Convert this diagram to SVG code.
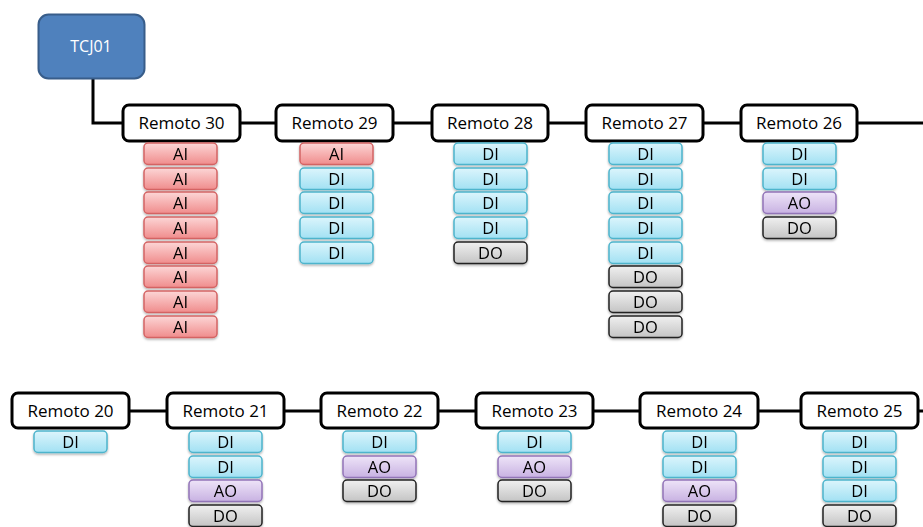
<svg xmlns="http://www.w3.org/2000/svg" width="923" height="527" viewBox="0 0 923 527">
<defs>
<linearGradient id="gAI" x1="0" y1="0" x2="0" y2="1"><stop offset="0" stop-color="#fcd6d6"/><stop offset="1" stop-color="#f08c8c"/></linearGradient>
<linearGradient id="gDI" x1="0" y1="0" x2="0" y2="1"><stop offset="0" stop-color="#dcf5fc"/><stop offset="1" stop-color="#a2e1f3"/></linearGradient>
<linearGradient id="gAO" x1="0" y1="0" x2="0" y2="1"><stop offset="0" stop-color="#eee4f8"/><stop offset="1" stop-color="#c8b2e2"/></linearGradient>
<linearGradient id="gDO" x1="0" y1="0" x2="0" y2="1"><stop offset="0" stop-color="#f0f0f0"/><stop offset="1" stop-color="#c4c4c4"/></linearGradient>
<filter id="sh" x="-10%" y="-20%" width="120%" height="160%"><feDropShadow dx="0" dy="1.5" stdDeviation="1.2" flood-color="#000" flood-opacity="0.3"/></filter>
</defs>
<style>
.rem rect{fill:#fff;stroke:#000;stroke-width:3}
.rem text{font-family:"Open Sans","Liberation Sans",sans-serif;font-size:17px;fill:#000;text-anchor:middle}
.it{filter:url(#sh)}
.it rect{stroke-width:1.5}
.it text{font-family:"Open Sans","Liberation Sans",sans-serif;font-size:16.5px;fill:#000;text-anchor:middle}
.AI{fill:url(#gAI);stroke:#d46464}
.DI{fill:url(#gDI);stroke:#4db4cc}
.AO{fill:url(#gAO);stroke:#9274b8}
.DO{fill:url(#gDO);stroke:#222}
.conn path{fill:none;stroke:#000;stroke-width:3}
</style>
<g class="conn">
<path d="M93 79 V123 H123"/>
<path d="M240 123 H276"/>
<path d="M393 123 H432"/>
<path d="M548 123 H586"/>
<path d="M703 123 H741"/>
<path d="M857 123 H923"/>
<path d="M129 411 H167"/>
<path d="M284 411 H321"/>
<path d="M438 411 H476"/>
<path d="M593 411 H640"/>
<path d="M758 411 H801"/>
<path d="M918 411 H923"/>
</g>
<g id="TCJ01">
<rect x="38.5" y="14.5" width="106" height="64" rx="10" fill="#4f81bd" stroke="#385d8a" stroke-width="2"/>
<text x="91" y="52" font-family="'Open Sans','Liberation Sans',sans-serif" font-size="16" fill="#fff" text-anchor="middle">TCJ01</text>
</g>
<g id="R30">
<g class="rem"><rect x="123" y="105" width="117" height="36" rx="6"/><text x="181.5" y="129">Remoto 30</text></g>
<g class="it"><rect class="AI" x="144" y="143" width="73" height="21.5" rx="4"/><text x="180.5" y="159.5">AI</text></g>
<g class="it"><rect class="AI" x="144" y="168" width="73" height="21.5" rx="4"/><text x="180.5" y="184.5">AI</text></g>
<g class="it"><rect class="AI" x="144" y="192" width="73" height="21.5" rx="4"/><text x="180.5" y="208.5">AI</text></g>
<g class="it"><rect class="AI" x="144" y="217" width="73" height="21.5" rx="4"/><text x="180.5" y="233.5">AI</text></g>
<g class="it"><rect class="AI" x="144" y="242" width="73" height="21.5" rx="4"/><text x="180.5" y="258.5">AI</text></g>
<g class="it"><rect class="AI" x="144" y="266" width="73" height="21.5" rx="4"/><text x="180.5" y="282.5">AI</text></g>
<g class="it"><rect class="AI" x="144" y="291" width="73" height="21.5" rx="4"/><text x="180.5" y="307.5">AI</text></g>
<g class="it"><rect class="AI" x="144" y="316" width="73" height="21.5" rx="4"/><text x="180.5" y="332.5">AI</text></g>
</g>
<g id="R29">
<g class="rem"><rect x="276" y="105" width="117" height="36" rx="6"/><text x="334.5" y="129">Remoto 29</text></g>
<g class="it"><rect class="AI" x="300" y="143" width="73" height="21.5" rx="4"/><text x="336.5" y="159.5">AI</text></g>
<g class="it"><rect class="DI" x="300" y="168" width="73" height="21.5" rx="4"/><text x="336.5" y="184.5">DI</text></g>
<g class="it"><rect class="DI" x="300" y="192" width="73" height="21.5" rx="4"/><text x="336.5" y="208.5">DI</text></g>
<g class="it"><rect class="DI" x="300" y="217" width="73" height="21.5" rx="4"/><text x="336.5" y="233.5">DI</text></g>
<g class="it"><rect class="DI" x="300" y="242" width="73" height="21.5" rx="4"/><text x="336.5" y="258.5">DI</text></g>
</g>
<g id="R28">
<g class="rem"><rect x="432" y="105" width="116" height="36" rx="6"/><text x="490" y="129">Remoto 28</text></g>
<g class="it"><rect class="DI" x="454" y="143" width="73" height="21.5" rx="4"/><text x="490.5" y="159.5">DI</text></g>
<g class="it"><rect class="DI" x="454" y="168" width="73" height="21.5" rx="4"/><text x="490.5" y="184.5">DI</text></g>
<g class="it"><rect class="DI" x="454" y="192" width="73" height="21.5" rx="4"/><text x="490.5" y="208.5">DI</text></g>
<g class="it"><rect class="DI" x="454" y="217" width="73" height="21.5" rx="4"/><text x="490.5" y="233.5">DI</text></g>
<g class="it"><rect class="DO" x="454" y="242" width="73" height="21.5" rx="4"/><text x="490.5" y="258.5">DO</text></g>
</g>
<g id="R27">
<g class="rem"><rect x="586" y="105" width="117" height="36" rx="6"/><text x="644.5" y="129">Remoto 27</text></g>
<g class="it"><rect class="DI" x="609" y="143" width="73" height="21.5" rx="4"/><text x="645.5" y="159.5">DI</text></g>
<g class="it"><rect class="DI" x="609" y="168" width="73" height="21.5" rx="4"/><text x="645.5" y="184.5">DI</text></g>
<g class="it"><rect class="DI" x="609" y="192" width="73" height="21.5" rx="4"/><text x="645.5" y="208.5">DI</text></g>
<g class="it"><rect class="DI" x="609" y="217" width="73" height="21.5" rx="4"/><text x="645.5" y="233.5">DI</text></g>
<g class="it"><rect class="DI" x="609" y="242" width="73" height="21.5" rx="4"/><text x="645.5" y="258.5">DI</text></g>
<g class="it"><rect class="DO" x="609" y="266" width="73" height="21.5" rx="4"/><text x="645.5" y="282.5">DO</text></g>
<g class="it"><rect class="DO" x="609" y="291" width="73" height="21.5" rx="4"/><text x="645.5" y="307.5">DO</text></g>
<g class="it"><rect class="DO" x="609" y="316" width="73" height="21.5" rx="4"/><text x="645.5" y="332.5">DO</text></g>
</g>
<g id="R26">
<g class="rem"><rect x="741" y="105" width="116" height="36" rx="6"/><text x="799" y="129">Remoto 26</text></g>
<g class="it"><rect class="DI" x="763" y="143" width="73" height="21.5" rx="4"/><text x="799.5" y="159.5">DI</text></g>
<g class="it"><rect class="DI" x="763" y="168" width="73" height="21.5" rx="4"/><text x="799.5" y="184.5">DI</text></g>
<g class="it"><rect class="AO" x="763" y="192" width="73" height="21.5" rx="4"/><text x="799.5" y="208.5">AO</text></g>
<g class="it"><rect class="DO" x="763" y="217" width="73" height="21.5" rx="4"/><text x="799.5" y="233.5">DO</text></g>
</g>
<g id="R20">
<g class="rem"><rect x="12" y="393" width="117" height="35" rx="6"/><text x="70.5" y="417">Remoto 20</text></g>
<g class="it"><rect class="DI" x="34" y="431" width="73" height="21.5" rx="4"/><text x="70.5" y="447.5">DI</text></g>
</g>
<g id="R21">
<g class="rem"><rect x="167" y="393" width="117" height="35" rx="6"/><text x="225.5" y="417">Remoto 21</text></g>
<g class="it"><rect class="DI" x="189" y="431" width="73" height="21.5" rx="4"/><text x="225.5" y="447.5">DI</text></g>
<g class="it"><rect class="DI" x="189" y="456" width="73" height="21.5" rx="4"/><text x="225.5" y="472.5">DI</text></g>
<g class="it"><rect class="AO" x="189" y="480" width="73" height="21.5" rx="4"/><text x="225.5" y="496.5">AO</text></g>
<g class="it"><rect class="DO" x="189" y="505" width="73" height="21.5" rx="4"/><text x="225.5" y="521.5">DO</text></g>
</g>
<g id="R22">
<g class="rem"><rect x="321" y="393" width="117" height="35" rx="6"/><text x="379.5" y="417">Remoto 22</text></g>
<g class="it"><rect class="DI" x="343" y="431" width="73" height="21.5" rx="4"/><text x="379.5" y="447.5">DI</text></g>
<g class="it"><rect class="AO" x="343" y="456" width="73" height="21.5" rx="4"/><text x="379.5" y="472.5">AO</text></g>
<g class="it"><rect class="DO" x="343" y="480" width="73" height="21.5" rx="4"/><text x="379.5" y="496.5">DO</text></g>
</g>
<g id="R23">
<g class="rem"><rect x="476" y="393" width="117" height="35" rx="6"/><text x="534.5" y="417">Remoto 23</text></g>
<g class="it"><rect class="DI" x="498" y="431" width="73" height="21.5" rx="4"/><text x="534.5" y="447.5">DI</text></g>
<g class="it"><rect class="AO" x="498" y="456" width="73" height="21.5" rx="4"/><text x="534.5" y="472.5">AO</text></g>
<g class="it"><rect class="DO" x="498" y="480" width="73" height="21.5" rx="4"/><text x="534.5" y="496.5">DO</text></g>
</g>
<g id="R24">
<g class="rem"><rect x="640" y="393" width="118" height="35" rx="6"/><text x="699" y="417">Remoto 24</text></g>
<g class="it"><rect class="DI" x="663" y="431" width="73" height="21.5" rx="4"/><text x="699.5" y="447.5">DI</text></g>
<g class="it"><rect class="DI" x="663" y="456" width="73" height="21.5" rx="4"/><text x="699.5" y="472.5">DI</text></g>
<g class="it"><rect class="AO" x="663" y="480" width="73" height="21.5" rx="4"/><text x="699.5" y="496.5">AO</text></g>
<g class="it"><rect class="DO" x="663" y="505" width="73" height="21.5" rx="4"/><text x="699.5" y="521.5">DO</text></g>
</g>
<g id="R25">
<g class="rem"><rect x="801" y="393" width="117" height="35" rx="6"/><text x="859.5" y="417">Remoto 25</text></g>
<g class="it"><rect class="DI" x="823" y="431" width="73" height="21.5" rx="4"/><text x="859.5" y="447.5">DI</text></g>
<g class="it"><rect class="DI" x="823" y="456" width="73" height="21.5" rx="4"/><text x="859.5" y="472.5">DI</text></g>
<g class="it"><rect class="DI" x="823" y="480" width="73" height="21.5" rx="4"/><text x="859.5" y="496.5">DI</text></g>
<g class="it"><rect class="DO" x="823" y="505" width="73" height="21.5" rx="4"/><text x="859.5" y="521.5">DO</text></g>
</g>
</svg>
